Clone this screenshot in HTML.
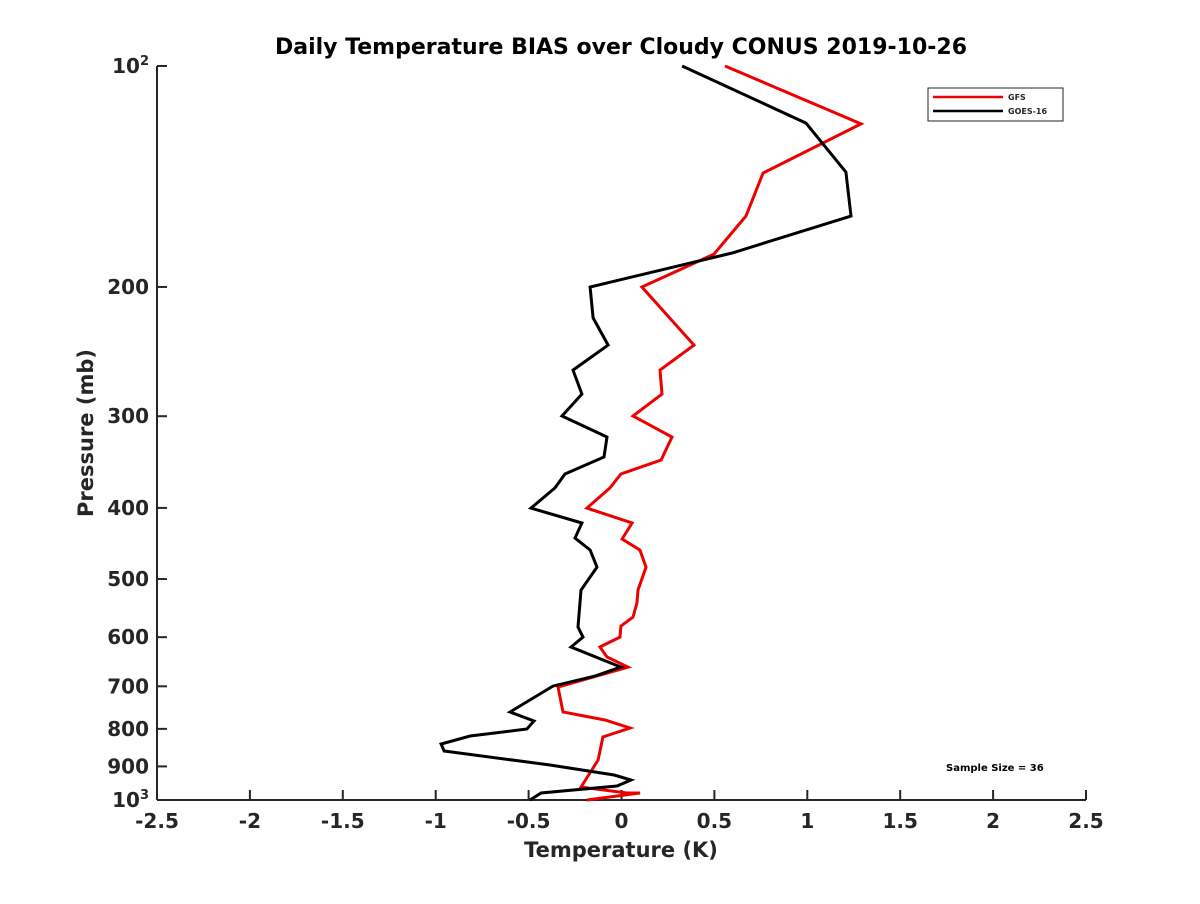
<!DOCTYPE html>
<html><head><meta charset="utf-8"><style>
body{margin:0;background:#fff;font-family:"DejaVu Sans",sans-serif}
svg text{font-family:"DejaVu Sans",sans-serif;font-weight:bold;fill:#262626}
</style></head><body>
<svg id="chart" width="1200" height="900" xmlns="http://www.w3.org/2000/svg">
<rect width="1200" height="900" fill="#fff"/>
<text x="621" y="54" font-size="22" text-anchor="middle" style="fill:#000">Daily Temperature BIAS over Cloudy CONUS 2019-10-26</text>
<g id="axes"></g>
<g id="series"></g>
<text x="621" y="857" font-size="21" text-anchor="middle">Temperature (K)</text>
<text x="0" y="0" font-size="21" text-anchor="middle" transform="translate(93,433) rotate(-90)">Pressure (mb)</text>
<g>
<rect x="928" y="88" width="135" height="33" fill="#fff" stroke="#262626" stroke-width="1"/>
<line x1="933" y1="97" x2="1003" y2="97" stroke="#e00" stroke-width="2.5"/>
<text x="1008" y="100" font-size="8">GFS</text>
<line x1="933" y1="111" x2="1003" y2="111" stroke="#000" stroke-width="2.5"/>
<text x="1008" y="114" font-size="8">GOES-16</text>
</g>
<text x="946" y="771" font-size="10" style="fill:#000">Sample Size = 36</text>
</svg>
<script>
const xTicks=[-2.5,-2,-1.5,-1,-0.5,0,0.5,1,1.5,2,2.5];
const xTickLabels=["-2.5","-2","-1.5","-1","-0.5","0","0.5","1","1.5","2","2.5"];
const yTicks=[200,300,400,500,600,700,800,900];
const gfsTemp=[0.557,1.289,0.762,0.670,0.498,0.110,0.390,0.207,0.218,0.062,0.272,0.213,-0.003,-0.062,-0.186,0.057,0.003,0.099,0.132,0.089,0.083,0.062,-0.003,-0.008,-0.116,-0.078,0.035,-0.153,-0.342,-0.315,-0.089,0.046,-0.100,-0.126,-0.170,-0.218,0.030,0.100,-0.186];
const gfsPres=[100,119.9,139.9,160.1,180.4,200,240,259.6,279.9,299.8,320.2,344.2,359.6,375.7,400.2,419.4,441,456.5,481.6,517.6,539.1,563.4,579.5,599.8,618.8,638.6,659,680,701.6,758.8,778,797.7,820.6,882,918.7,960.2,978.4,978.4,1000];
const goesTemp=[0.326,0.993,1.208,1.235,0.595,-0.169,-0.153,-0.072,-0.261,-0.213,-0.320,-0.078,-0.094,-0.304,-0.358,-0.487,-0.213,-0.250,-0.169,-0.132,-0.218,-0.234,-0.207,-0.272,-0.003,-0.143,-0.369,-0.600,-0.471,-0.509,-0.815,-0.971,-0.955,-0.385,-0.040,0.051,-0.024,-0.433,-0.492];
const goesPres=[100,119.6,139.5,160.1,179.8,200,220.4,240,259.6,279.9,299.8,320.2,341,359.6,375.7,400.2,419.4,439.6,456.5,481.6,517.6,581.3,599.8,618.8,659,677.9,699.5,758.8,780.4,800.3,818,838.8,857.4,896,924.5,939.3,957,978.4,1000];
const X=t=>621.5+(t)*185.8;
const Y=p=>66+734*Math.log10(p/100);
const NS="http://www.w3.org/2000/svg";
const axes=document.getElementById('axes');
function mk(tag,attrs,parent){const e=document.createElementNS(NS,tag);for(const k in attrs)e.setAttribute(k,attrs[k]);parent.appendChild(e);return e;}
const xa=mk('line',{x1:157,y1:800,x2:1086,y2:800,stroke:'#262626','stroke-width':2},axes);


const ya=mk('line',{x1:157,y1:66,x2:157,y2:800,stroke:'#262626','stroke-width':2},axes);


xTicks.forEach((t,i)=>{
 mk('line',{x1:X(t),y1:800,x2:X(t),y2:790,stroke:'#262626','stroke-width':2},axes);
 const tx=mk('text',{x:X(t),y:828,'font-size':20,'text-anchor':'middle'},axes);
 tx.textContent=xTickLabels[i];
 
 
});
[100,1000].concat(yTicks).forEach(p=>{
 mk('line',{x1:157,y1:Y(p),x2:167,y2:Y(p),stroke:'#262626','stroke-width':2},axes);
});
yTicks.forEach(p=>{
 const tx=mk('text',{x:149,y:Y(p)+7,'font-size':20,'text-anchor':'end'},axes);
 tx.textContent=String(p);
 
 
});
[[100,'2'],[1000,'3']].forEach(([p,e])=>{
 const tx=mk('text',{x:149,y:Y(p)+7,'font-size':20,'text-anchor':'end'},axes);
 tx.innerHTML='10<tspan dy="-8" font-size="13">'+e+'</tspan>';
 
 
});
const ser=document.getElementById('series');
function line(T,P,color,name){
 const pts=T.map((t,i)=>X(t).toFixed(1)+','+Y(P[i]).toFixed(1)).join(' ');
 const pl=mk('polyline',{points:pts,fill:'none',stroke:color,'stroke-width':3,'stroke-linejoin':'miter'},ser);
 
 
}
line(gfsTemp,gfsPres,'#e00','gfs-line');
line(goesTemp,goesPres,'#000','goes16-line');
</script>
</body></html>
